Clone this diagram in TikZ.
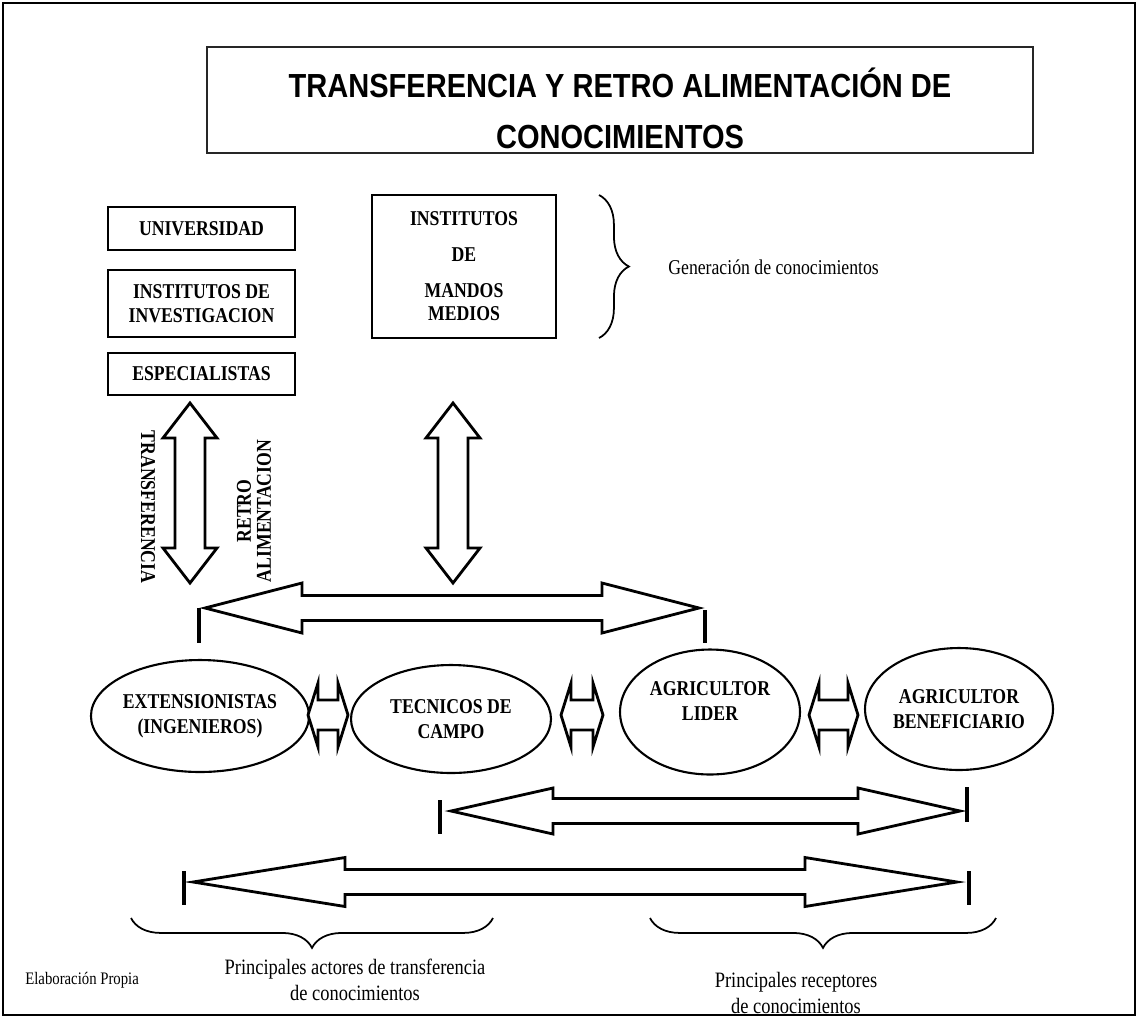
\documentclass[tikz,border=0pt]{standalone}
\usepackage{fontspec}
\setmainfont{Liberation Serif}[FakeStretch=0.84]
\newfontfamily\titlefont{Liberation Sans}[FakeStretch=0.87]
\usetikzlibrary{shapes.geometric,decorations.pathreplacing}
% horizontal double block arrow: x0, x1, yc, head length, head half height, shaft half height
\newcommand\harrow[6]{%
  \draw[blockarrow] (#1,#3) -- ({#1+#4},{#3-#5}) -- ({#1+#4},{#3-#6}) -- ({#2-#4},{#3-#6})
    -- ({#2-#4},{#3-#5}) -- (#2,#3) -- ({#2-#4},{#3+#5}) -- ({#2-#4},{#3+#6})
    -- ({#1+#4},{#3+#6}) -- ({#1+#4},{#3+#5}) -- cycle;}
% vertical double block arrow: xc, y0, y1, head length, head half width, shaft half width
\newcommand\varrow[6]{%
  \draw[blockarrow] (#1,#2) -- ({#1+#5},{#2+#4}) -- ({#1+#6},{#2+#4}) -- ({#1+#6},{#3-#4})
    -- ({#1+#5},{#3-#4}) -- (#1,#3) -- ({#1-#5},{#3-#4}) -- ({#1-#6},{#3-#4})
    -- ({#1-#6},{#2+#4}) -- ({#1-#5},{#2+#4}) -- cycle;}
\begin{document}
\begin{tikzpicture}[x=0.02cm,y=-0.02cm,
  box/.style={draw,line width=1.1pt,align=center,font=\bfseries\fontsize{12}{14}\selectfont,inner sep=0pt},
  oval/.style={draw,ellipse,line width=1.2pt,align=center,inner sep=0pt,font=\bfseries\fontsize{12}{14.2}\selectfont},
  blockarrow/.style={draw,line width=1.6pt,fill=white,line join=miter},
  endbar/.style={line width=2.8pt},
  lbl/.style={font=\fontsize{12.5}{14.5}\selectfont,align=center,inner sep=0pt},
  vlbl/.style={font=\bfseries\fontsize{12}{11.5}\selectfont,align=center,inner sep=0pt},
  bracestyle/.style={decorate,line width=1pt}]
\useasboundingbox (0,0) rectangle (1138,1018);
\draw[line width=0.6pt] (3,3) rectangle (1135,1015);

% title
\draw[line width=1pt,black!85] (207,47) rectangle (1033,153);
\node[font=\titlefont\bfseries\fontsize{19}{29}\selectfont,align=center] (title) at (620,108)
  {TRANSFERENCIA Y RETRO ALIMENTACIÓN DE\\CONOCIMIENTOS};

% knowledge generators
\node[box,minimum width=3.74cm,minimum height=0.86cm] (uni) at (201.5,228.5) {UNIVERSIDAD};
\node[box,minimum width=3.74cm,minimum height=1.34cm] (inv) at (201.5,303.5) {INSTITUTOS DE\\INVESTIGACION};
\node[box,minimum width=3.74cm,minimum height=0.84cm] (esp) at (201.5,374) {ESPECIALISTAS};
\node[box,minimum width=3.68cm,minimum height=2.86cm] (mandos) at (464,266.5)
  {INSTITUTOS\\[6pt]DE\\[7pt]MANDOS\\[-1pt]MEDIOS};

\draw[bracestyle,decoration={brace,amplitude=17pt}] (599,195) -- (599,338);
\node[lbl,anchor=west,font=\fontsize{12}{14}\selectfont] (gen) at (668,267) {Generación de conocimientos};

% vertical arrows
\varrow{190}{403}{583}{35}{27}{15}
\varrow{453}{403}{583}{35}{27}{15}
\node[vlbl,rotate=-90] (transf) at (148,507) {TRANSFERENCIA};
\node[vlbl,rotate=90] (retro) at (254,511) {RETRO\\ALIMENTACION};

% top horizontal arrow
\harrow{205}{699}{608}{97}{25}{12.5}
\draw[endbar] (199,608) -- (199,643);
\draw[endbar] (705,610) -- (705,643);

% actors
\node[oval,minimum width=4.0cm,minimum height=2.24cm] (ext) at (200,716) {EXTENSIONISTAS\\(INGENIEROS)};
\node[oval,minimum width=4.0cm,minimum height=2.16cm] (tec) at (451,719) {TECNICOS DE\\CAMPO};
\node[oval,minimum width=3.6cm,minimum height=2.5cm,text depth=12pt] (lid) at (710,712) {AGRICULTOR\\LIDER};
\node[oval,minimum width=3.76cm,minimum height=2.44cm] (ben) at (959,709) {AGRICULTOR\\BENEFICIARIO};

\harrow{308}{348}{715}{10}{32}{15}
\harrow{561}{603}{715}{10}{32}{15}
\harrow{809}{858}{715}{10}{32}{15}

% middle arrow
\harrow{451}{960}{811}{102}{23}{12.5}
\draw[endbar] (440,800) -- (440,834);
\draw[endbar] (967,787) -- (967,822);

% bottom arrow
\harrow{193}{957}{882}{152}{24.5}{12.5}
\draw[endbar] (184,871) -- (184,905);
\draw[endbar] (969,871) -- (969,905);

% braces and captions
\draw[bracestyle,decoration={brace,amplitude=17pt}] (493,918) -- (131,918);
\draw[bracestyle,decoration={brace,amplitude=17pt}] (996,918) -- (650,918);
\node[lbl] (actores) at (355,980) {Principales actores de transferencia\\de conocimientos};
\node[lbl] (recept) at (796,993) {Principales receptores\\de conocimientos};
\node[font=\fontsize{10}{12}\selectfont,anchor=west,inner sep=0pt] (elab) at (25,980) {Elaboración Propia};
\end{tikzpicture}
\end{document}
